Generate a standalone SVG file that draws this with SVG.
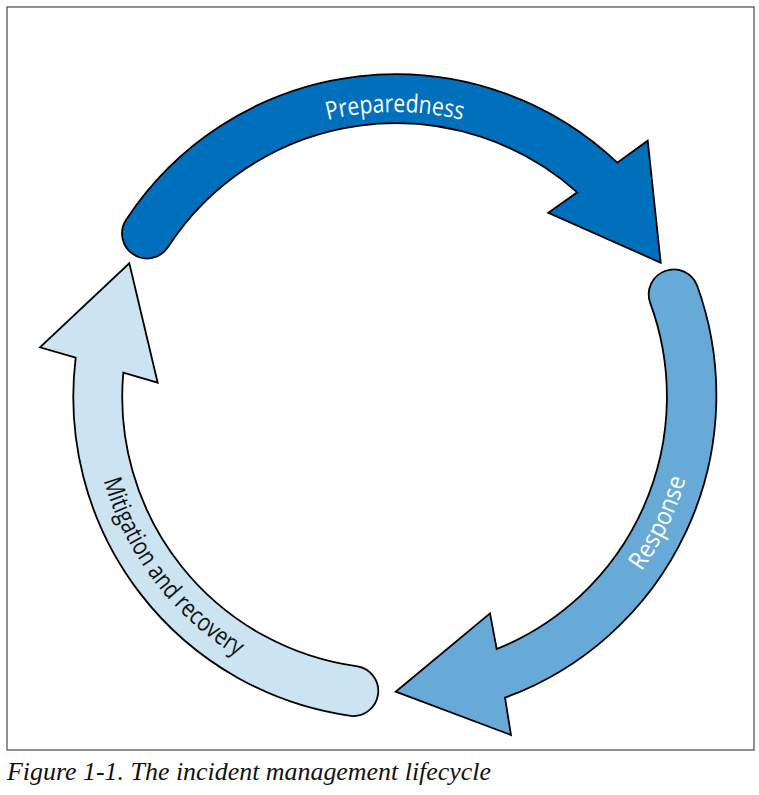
<svg xmlns="http://www.w3.org/2000/svg" width="759" height="795" viewBox="0 0 759 795">
  <style>
    .arrow { stroke: #000; stroke-width: 1.8; stroke-linejoin: miter; }
    .lbl { font-family: "Open Sans", "DejaVu Sans", sans-serif; font-size: 25px; }
    .cap { font-family: "Liberation Serif", "DejaVu Serif", serif; font-style: italic; font-size: 25px; fill: #111; }
  </style>
  <defs>
    <path id="pPrep" d="M127.2,299.5 A285,285 0 0 1 662.8,299.5"/>
    <path id="pResp" d="M520.2,671.8 A302,302 0 0 0 687.4,321.4"/>
    <path id="pMit" d="M92.3,382.7 A304,304 0 0 0 328.4,693.6"/>
  </defs>
  <rect x="7" y="7" width="747" height="743" fill="#fff" stroke="#555" stroke-width="1.3"/>
  <g id="connectors">
    <g id="preparedness">
      <path class="arrow" fill="#0070BC" d="M126.2,219.7 A322,322 0 0 1 617.3,162.7 L647.7,140.7 L660.7,262.7 L548.3,212.7 L577.3,192.3 A272,272 0 0 0 167.9,247.3 A25,25 0 0 1 126.2,219.7 Z"/>
      <text class="lbl" fill="#fff"><textPath href="#pPrep" startOffset="50%" text-anchor="middle" textLength="136" lengthAdjust="spacingAndGlyphs">Preparedness</textPath></text>
    </g>
    <g id="response">
      <path class="arrow" fill="#67AAD7" d="M697.0,285.3 A322,322 0 0 1 505,697.7 L511,735 L395.7,691.7 L490,613.3 L496.7,649 A272,272 0 0 0 650.1,302.6 A25,25 0 0 1 697.0,285.3 Z"/>
      <text class="lbl" fill="#fff"><textPath href="#pResp" startOffset="50%" text-anchor="middle" textLength="103" lengthAdjust="spacingAndGlyphs">Response</textPath></text>
    </g>
    <g id="mitigation">
      <path class="arrow" fill="#CCE3F2" d="M350.8,715.9 A322,322 0 0 1 75.7,357.7 L40,347.3 L129.3,263.3 L157.7,382.7 L123.3,372.7 A272,272 0 0 0 357.6,666.4 A25,25 0 0 1 350.8,715.9 Z"/>
      <text class="lbl" fill="#111"><textPath href="#pMit" startOffset="50%" text-anchor="middle" textLength="226" lengthAdjust="spacingAndGlyphs">Mitigation and recovery</textPath></text>
    </g>
  </g>
  <text class="cap" x="7" y="780" textLength="484" lengthAdjust="spacingAndGlyphs">Figure 1-1. The incident management lifecycle</text>
</svg>
